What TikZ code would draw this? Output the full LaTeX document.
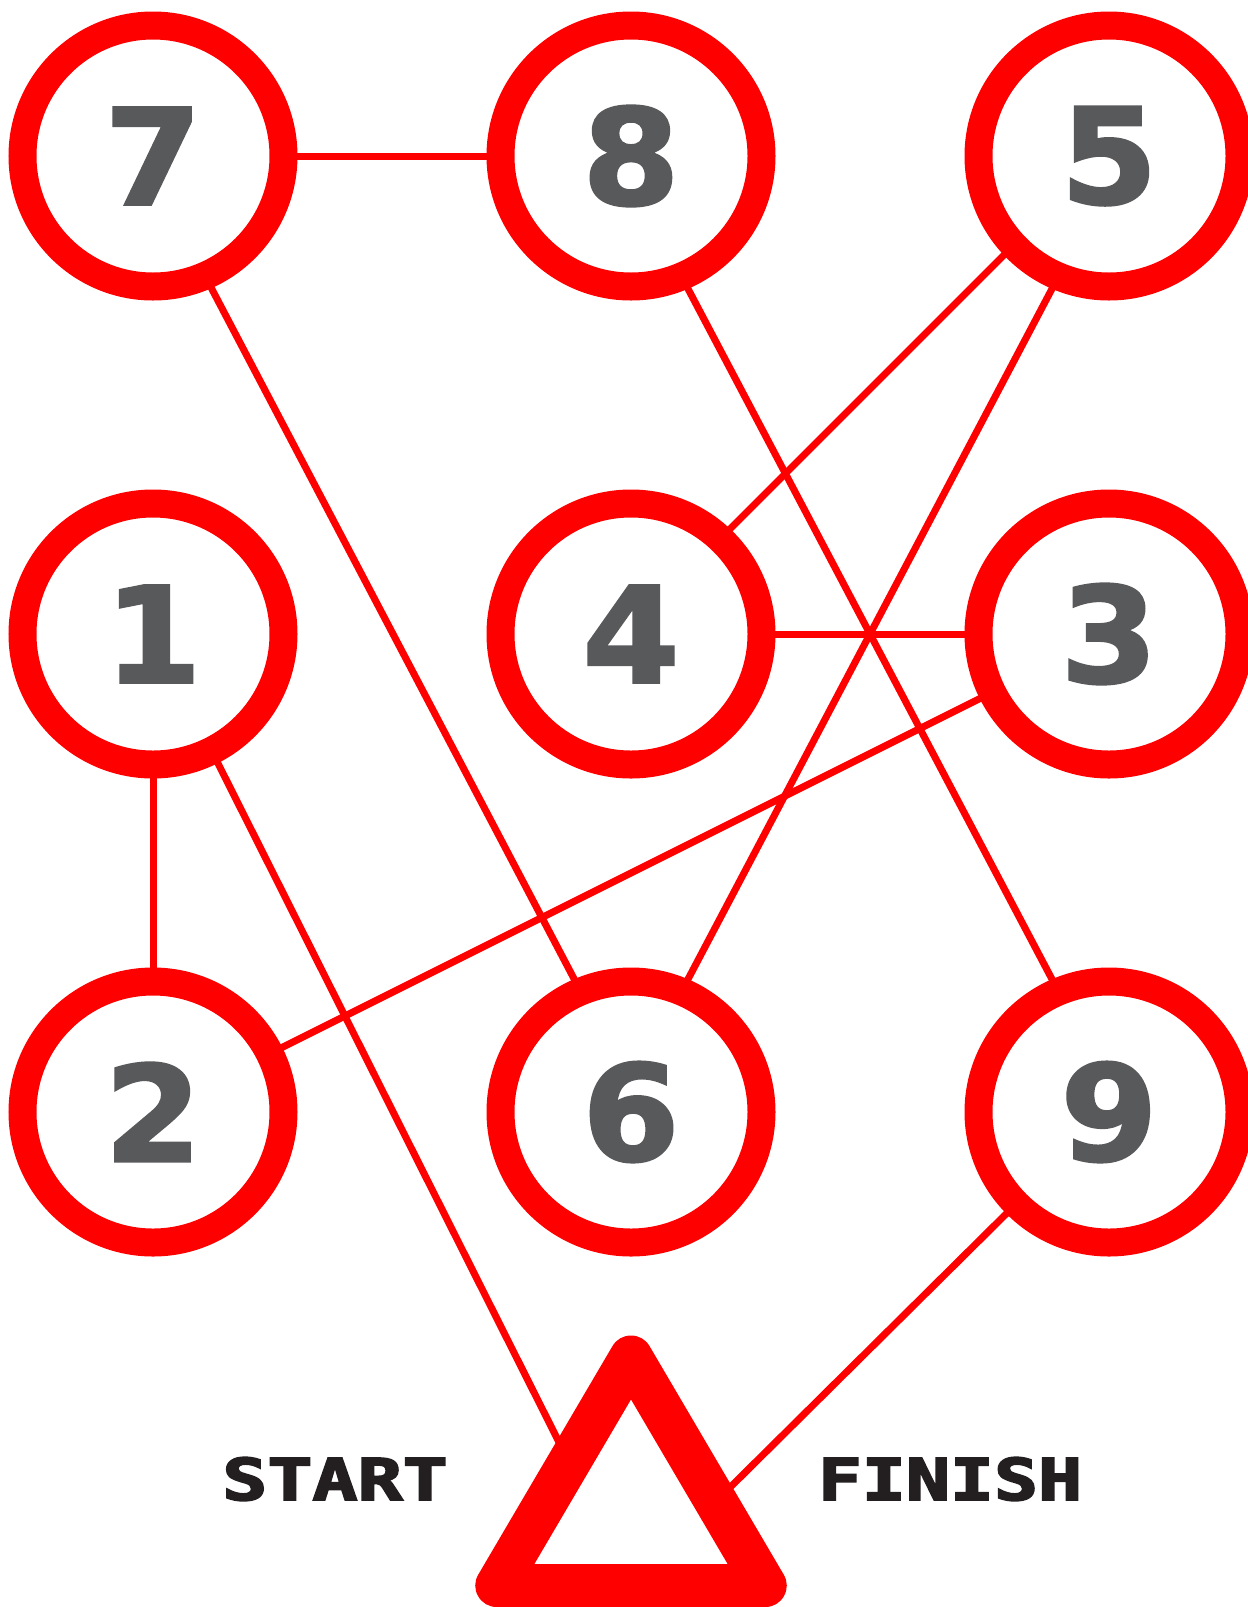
\documentclass[tikz,border=0pt]{standalone}
\usepackage{fontspec}
\setmainfont{DejaVu Sans}[BoldFeatures={FakeBold=2}]
\newfontfamily\lblfont{DejaVu Sans Mono}[BoldFeatures={FakeBold=3}]
\usetikzlibrary{backgrounds}
\definecolor{numgray}{HTML}{58595B}
\definecolor{txtblack}{HTML}{231F20}
\begin{document}
\begin{tikzpicture}[x=1pt,y=-1pt,
  ring/.style={circle, draw=red, fill=white, line width=28pt, minimum size=261pt, inner sep=0pt, text=numgray, font=\fontsize{133}{133}\selectfont\bfseries},
  link/.style={draw=red, line width=7pt},
  tri/.style={draw=red, fill=white, line width=43pt, line join=round},
  lbl/.style={text=txtblack, font=\fontsize{57.6}{58}\selectfont\lblfont\bfseries, inner sep=0pt}]
\useasboundingbox (0,0) rectangle (1248,1607);
\clip (0,0) rectangle (1248,1607);
\node[ring] (n7) at (153,156) {\scalebox{1.05}[1]{7}};
\node[ring] (n8) at (631,156) {\scalebox{1.05}[1]{8}};
\node[ring] (n5) at (1109,156) {\scalebox{1.05}[1]{5}};
\node[ring] (n1) at (153,634) {\scalebox{1.05}[1]{1}};
\node[ring] (n4) at (631,634) {\scalebox{1.05}[1]{4}};
\node[ring] (n3) at (1109,634) {\scalebox{1.05}[1]{3}};
\node[ring] (n2) at (153,1112) {\scalebox{1.05}[1]{2}};
\node[ring] (n6) at (631,1112) {\scalebox{1.05}[1]{6}};
\node[ring] (n9) at (1109,1112) {\scalebox{1.05}[1]{9}};
\coordinate (tri) at (631,1585.5);
\draw[tri] (631,1357) -- (496.8,1585.5) -- (765.2,1585.5) -- cycle;
\node[lbl] (start) at (335,1479) {\scalebox{1.3}[1]{START}};
\node[lbl] (finish) at (950,1479) {\scalebox{1.27}[1]{FINISH}};
\begin{scope}[on background layer]
\draw[link] (n7.center) -- (n8.center);
\draw[link] (n4.center) -- (n3.center);
\draw[link] (n1.center) -- (n2.center);
\draw[link] ([xshift=-11pt]n7.center) -- ([xshift=13pt]n6.center);
\draw[link] ([xshift=-13pt]n8.center) -- ([xshift=13pt]n9.center);
\draw[link] ([xshift=13pt]n5.center) -- ([xshift=-13pt]n6.center);
\draw[link] ([xshift=-6pt]n5.center) -- ([xshift=-6pt]n4.center);
\draw[link] (n3.center) -- (n2.center);
\draw[link] (n1.center) -- (tri);
\draw[link] (n9.center) -- (tri);
\end{scope}
\end{tikzpicture}
\end{document}
